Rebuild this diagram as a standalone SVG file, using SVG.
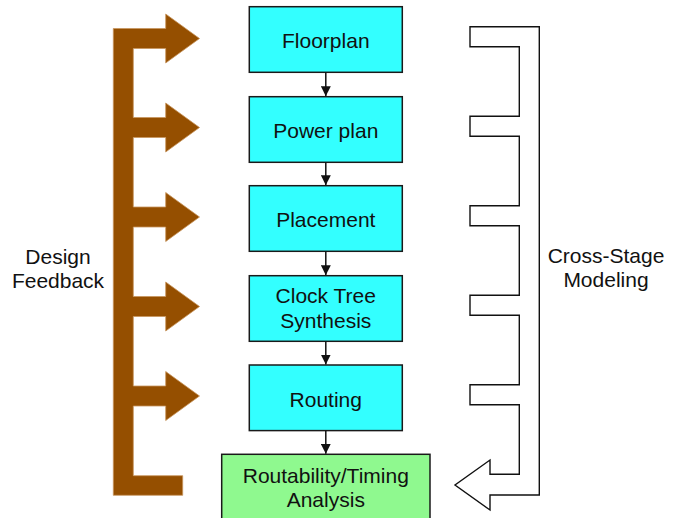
<svg xmlns="http://www.w3.org/2000/svg" width="678" height="518" viewBox="0 0 678 518">
<defs>
<style>
.box{fill:#33FFFF;stroke:#1a1a1a;stroke-width:1.5}
.boxg{fill:#8FF98F;stroke:#1a1a1a;stroke-width:1.5}
.t{font-family:"Liberation Sans",Arial,sans-serif;font-size:21px;fill:#111;text-anchor:middle}
.c{stroke:#111;stroke-width:1.5;fill:none;marker-end:url(#ah)}
</style>
<marker id="ah" viewBox="0 0 10 10" refX="10" refY="5" markerWidth="10" markerHeight="10" markerUnits="userSpaceOnUse" orient="auto">
<path d="M0,0 L10,5 L0,10 Z" fill="#111"/>
</marker>
</defs>
<rect width="678" height="518" fill="#fff"/>
<g id="design-feedback">
<path d="M113.3,28.5 H165.7 V14 L199.5,38.5 L165.7,63 V48.5 H133.3 V117.5 H165.7 V103 L199.5,127.5 L165.7,152 V137.5 H133.3 V207 H165.7 V192.5 L199.5,217 L165.7,241.5 V227 H133.3 V296.5 H165.7 V282 L199.5,306.5 L165.7,331 V316.5 H133.3 V386 H165.7 V371.5 L199.5,396 L165.7,420.5 V406 H133.3 V475.7 H182.7 V495.3 H113.3 Z" fill="#954F00" stroke="#C8955E" stroke-width="0.8"/>
<text class="t" x="58" y="264">Design</text>
<text class="t" x="58" y="288">Feedback</text>
</g>
<g id="cross-stage-modeling">
<path d="M539.3,26.7 H470 V46.7 H519.3 V116.2 H470 V136.2 H519.3 V205.7 H470 V225.7 H519.3 V295.2 H470 V315.2 H519.3 V384.7 H470 V404.7 H519.3 V474.3 H490 V460 L455,485 L490,510 V495 H539.3 Z" fill="#fff" stroke="#111" stroke-width="1.4"/>
<text class="t" x="606" y="262.5">Cross-Stage</text>
<text class="t" x="606" y="286.5">Modeling</text>
</g>
<g id="floorplan">
<rect class="box" x="249.3" y="6.7" width="153" height="65.6"/>
<text class="t" x="325.8" y="48">Floorplan</text>
</g>
<g id="power-plan">
<rect class="box" x="249.3" y="96.7" width="153" height="65.6"/>
<text class="t" x="325.8" y="138">Power plan</text>
</g>
<g id="placement">
<rect class="box" x="249.3" y="185.7" width="153" height="65.6"/>
<text class="t" x="325.8" y="227.3">Placement</text>
</g>
<g id="cts">
<rect class="box" x="249.3" y="275.7" width="153" height="65.6"/>
<text class="t" x="325.8" y="303.3">Clock Tree</text>
<text class="t" x="325.8" y="327.5">Synthesis</text>
</g>
<g id="routing">
<rect class="box" x="249.3" y="365" width="153" height="65.6"/>
<text class="t" x="325.8" y="406.5">Routing</text>
</g>
<g id="analysis">
<rect class="boxg" x="221.7" y="454.3" width="208.3" height="70"/>
<text class="t" x="325.8" y="482.7">Routability/Timing</text>
<text class="t" x="325.8" y="506.7">Analysis</text>
</g>
<g id="connectors">
<line class="c" x1="325.8" y1="72.3" x2="325.8" y2="96.2"/>
<line class="c" x1="325.8" y1="162.3" x2="325.8" y2="185.2"/>
<line class="c" x1="325.8" y1="251.3" x2="325.8" y2="275.2"/>
<line class="c" x1="325.8" y1="341.3" x2="325.8" y2="364.5"/>
<line class="c" x1="325.8" y1="430.6" x2="325.8" y2="453.8"/>
</g>
</svg>
